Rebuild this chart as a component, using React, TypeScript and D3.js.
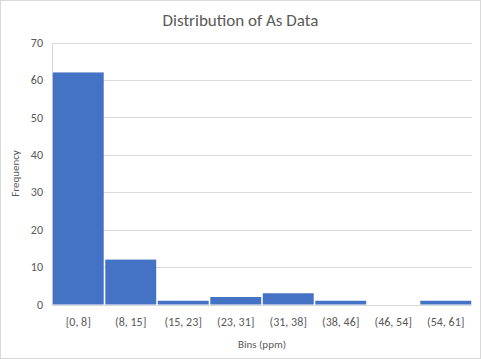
import React from 'react';
import * as d3 from 'd3';

// histogram bins and counts
const bins = ['[0, 8]', '(8, 15]', '(15, 23]', '(23, 31]', '(31, 38]', '(38, 46]', '(46, 54]', '(54, 61]'];
const counts = [62, 12, 1, 2, 3, 1, 0, 1];
const yTicks = [0, 10, 20, 30, 40, 50, 60, 70];

const W = 481, H = 359;
const m = { top: 42.5, right: 9, bottom: 54.5, left: 52 };
const FONT = "Calibri, Carlito, 'Liberation Sans', Arial, sans-serif";
const TXT = '#595959';

const App: React.FC = () => {
  const x = d3.scaleBand<string>().domain(bins).range([m.left, W - m.right]).paddingInner(0.03).paddingOuter(0.015);
  const y = d3.scaleLinear().domain([0, 70]).range([H - m.bottom, m.top]);
  const x0 = m.left, x1 = W - m.right;

  return (
    <svg width={W} height={H} style={{ position: 'absolute', left: 0, top: 0, display: 'block' }} fontFamily={FONT}>
      <rect x={0.5} y={0.5} width={W - 1} height={H - 1} fill="#fff" stroke="#d9d9d9" />
      <text x={W / 2} y={26} textAnchor="middle" fontSize={17} fill={TXT}>Distribution of As Data</text>

      {/* 网格线 */}
      {yTicks.map(t => (
        <line key={t} x1={x0} x2={x1} y1={Math.round(y(t)) + 0.5} y2={Math.round(y(t)) + 0.5} stroke="#d9d9d9" />
      ))}
      <line x1={x0 + 0.5} x2={x0 + 0.5} y1={Math.round(y(70)) + 0.5} y2={Math.round(y(0)) + 0.5} stroke="#d9d9d9" />

      {counts.map((c, i) => (
        c > 0 ? <rect key={i} x={x(bins[i])} width={x.bandwidth()} y={y(c)} height={y(0) - y(c)} fill="#4472c4" /> : null
      ))}

      {yTicks.map(t => (
        <text key={t} x={43} y={y(t)} dy="0.35em" textAnchor="end" fontSize={12} fill={TXT}>{t}</text>
      ))}
      {bins.map(b => (
        <text key={b} x={(x(b) as number) + x.bandwidth() / 2} y={322} dy="0.35em" textAnchor="middle" fontSize={12} fill={TXT}>{b}</text>
      ))}

      <text x={(x0 + x1) / 2} y={344} dy="0.35em" textAnchor="middle" fontSize={11} fill={TXT}>Bins (ppm)</text>
      <text transform={`translate(15,${(y(0) + y(70)) / 2}) rotate(-90)`} dy="0.35em" textAnchor="middle" fontSize={11} fill={TXT}>Frequency</text>
    </svg>
  );
};

export default App;
